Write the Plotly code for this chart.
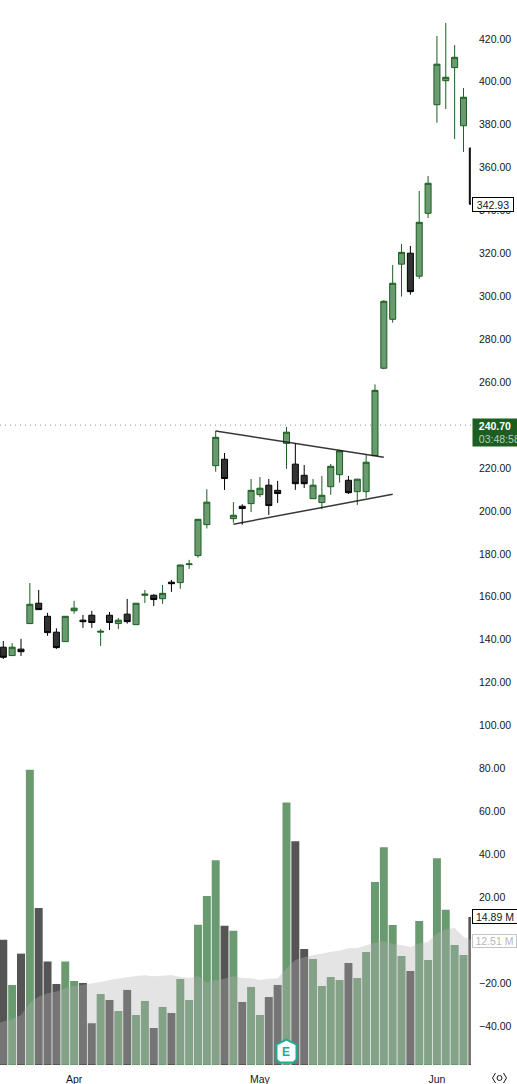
import plotly.graph_objects as go

# --- candles: open, high, low, close, one entry per trading day
opens = [136.5, 132.6, 135.6, 147.5, 157.0, 150.9, 143.5, 139.1, 153.5, 149.1, 151.4, 143.5, 151.4, 147.5, 151.9, 147.0,
         160.7, 160.7, 159.1, 166.8, 166.6, 175.0, 179.2, 193.6, 221.1, 224.1, 196.4, 202.2, 203.4, 207.6, 212.0, 209.6,
         231.5, 221.8, 216.6, 205.7, 203.9, 211.3, 216.9, 214.3, 209.0, 209.0, 225.8, 266.5, 289.3, 315.0, 320.1, 309.4,
         338.7, 389.3, 400.5, 406.6, 379.5, 369.1]
highs = [139.4, 138.4, 140.4, 166.4, 163.2, 152.5, 145.3, 151.0, 158.1, 151.5, 153.4, 145.0, 152.9, 150.1, 159.0, 157.0,
         163.2, 161.2, 165.5, 167.8, 175.0, 177.2, 196.2, 210.1, 237.3, 227.0, 204.1, 203.1, 214.9, 215.8, 214.9, 214.0,
         239.1, 231.5, 221.4, 214.9, 216.3, 221.9, 228.4, 216.3, 214.9, 226.1, 259.0, 298.2, 314.6, 324.4, 323.5, 349.1,
         356.1, 421.3, 427.4, 417.1, 397.1, 369.1]
lows = [131.0, 132.6, 132.4, 147.5, 154.0, 141.8, 135.7, 139.0, 152.1, 145.5, 145.5, 137.1, 144.5, 145.0, 147.5, 147.0,
        157.1, 155.7, 156.7, 162.3, 163.7, 173.0, 178.2, 191.8, 218.3, 209.8, 194.5, 193.6, 199.5, 206.5, 198.1, 203.7,
        219.6, 209.8, 210.7, 205.7, 200.8, 207.5, 213.2, 207.9, 202.8, 206.1, 225.8, 266.0, 287.7, 299.9, 300.8, 308.2,
        336.5, 380.9, 387.3, 373.3, 367.3, 342.93]
closes = [131.8, 136.5, 134.4, 156.5, 154.0, 143.3, 136.3, 150.9, 154.7, 148.4, 148.0, 143.9, 148.0, 149.1, 148.4, 157.0,
          161.2, 158.7, 161.6, 166.1, 174.8, 175.3, 196.1, 204.1, 234.3, 215.1, 198.0, 201.1, 209.6, 210.6, 202.5, 208.1,
          236.7, 212.7, 212.7, 212.0, 207.3, 220.8, 228.0, 208.5, 214.8, 222.7, 256.2, 297.7, 306.1, 320.5, 302.2, 334.5,
          352.7, 408.2, 402.1, 411.4, 392.8, 342.93]

# --- volume, in millions, and its moving average
volumes = [12.6, 8.05, 11.2, 29.7, 15.8, 10.4, 8.15, 10.4, 8.45, 8.25, 4.2, 7.14, 6.54, 5.43, 7.55, 5.03, 6.44, 3.72,
           5.84, 5.23, 8.65, 6.54, 14.1, 17.0, 20.6, 14.0, 13.5, 6.34, 7.85, 5.03, 6.84, 8.05, 26.4, 22.5, 11.67, 10.66,
           7.95, 8.85, 8.55, 10.26, 8.75, 11.37, 18.4, 21.9, 14.08, 10.97, 9.46, 14.49, 10.56, 20.8, 15.6, 12.07, 11.07,
           14.89]
volume_ma = [4.36, 4.63, 5.03, 6.27, 6.87, 7.21, 7.38, 7.71, 7.95, 8.08, 8.15, 8.35, 8.55, 8.72, 8.82, 8.95, 9.02, 8.92,
             8.98, 9.05, 8.85, 8.75, 8.92, 8.32, 8.55, 8.68, 8.95, 8.75, 8.72, 8.55, 8.68, 8.72, 9.73, 10.56, 10.83, 11.07,
             11.2, 11.4, 11.5, 11.74, 11.77, 12.07, 12.3, 12.47, 12.17, 12.07, 11.87, 12.24, 12.37, 13.25, 13.65, 13.78,
             12.9, 12.51]
volume_ma_before = 4.1
volume_floor = 0.1

# --- drawings, in chart values
upper_trend_x = [24, 43]
upper_trend_y = [237.3, 225.0]
lower_trend_x = [26, 44]
lower_trend_y = [193.8, 207.8]

month_labels = ["Apr", "May", "Jun"]
month_index = [8, 29, 49]
last_price = 342.93
prior_close = 240.70
price_line_level = 240.0  # where the dotted line actually sits on the price scale
countdown = "03:48:58"
volume_label = "14.89 M"
volume_ma_label = "12.51 M"
earnings_index = 32
earnings_level = 1.35

GREEN_FILL = "#6a9a70"
GREEN_LINE = "#1b5e20"
DARK_FILL = "#333333"
DARK_LINE = "#000000"
VOL_GREEN = "#6a9a70"
VOL_DARK = "#555555"
FONT = "Liberation Sans"
TEXT_SIZE = 10.5

W, H, ML, MR, MT, MB = 517, 1084, 0, 46, 0, 19
days = list(range(len(opens)))

fig = go.Figure()
fig.add_trace(go.Bar(x=days, y=volumes, yaxis="y2", width=0.9,
                     marker=dict(color=[VOL_GREEN if c >= o else VOL_DARK for o, c in zip(opens, closes)], line_width=0),
                     hoverinfo="skip"))
fig.add_trace(go.Scatter(x=[-1] + days, y=[volume_floor] * (len(days) + 1), yaxis="y2", mode="lines",
                         line=dict(width=0), hoverinfo="skip"))
fig.add_trace(go.Scatter(x=[-1] + days, y=[volume_ma_before] + volume_ma, yaxis="y2", mode="lines",
                         line=dict(width=0, shape="linear"), fill="tonexty", fillcolor="rgba(177,177,177,0.35)",
                         hoverinfo="skip"))
fig.add_trace(go.Candlestick(x=days, open=opens, high=highs, low=lows, close=closes, yaxis="y",
                             increasing=dict(line=dict(color=GREEN_LINE, width=1), fillcolor=GREEN_FILL),
                             decreasing=dict(line=dict(color=DARK_LINE, width=1), fillcolor=DARK_FILL),
                             whiskerwidth=0, hoverinfo="skip"))

fig.update_layout(
    width=W, height=H, margin=dict(l=ML, r=MR, t=MT, b=MB), showlegend=False,
    paper_bgcolor="white", plot_bgcolor="white", boxgap=0.2, boxgroupgap=0.15, boxmode="overlay",
    font=dict(family=FONT, size=TEXT_SIZE, color="#131722"),
    xaxis=dict(range=[-0.373, 52.85], showgrid=False, zeroline=False, rangeslider=dict(visible=False),
               tickmode="array", tickvals=month_index, ticktext=month_labels, ticks="", showline=False,
               ticklabelstandoff=6, tickfont=dict(size=TEXT_SIZE)),
    yaxis=dict(range=[-58.2, 438.1], side="right", showgrid=False, zeroline=False, dtick=20, tick0=0,
               tickformat=".2f", ticks="", ticklabelstandoff=7, showline=False, tickfont=dict(size=TEXT_SIZE)),
    yaxis2=dict(range=[0, 107.1], overlaying="y", side="right", showgrid=False, zeroline=False,
                showticklabels=False, ticks="", showline=False),
)

shapes = [
    dict(type="line", xref="paper", x0=0, x1=1, yref="y", y0=price_line_level, y1=price_line_level, layer="below",
         line=dict(color="#7f9f82", width=1, dash="1px 4px")),
    dict(type="line", xref="x", yref="y", x0=upper_trend_x[0], x1=upper_trend_x[1], y0=upper_trend_y[0], y1=upper_trend_y[1],
         line=dict(color="rgba(20,20,20,0.85)", width=1.5)),
    dict(type="line", xref="x", yref="y", x0=lower_trend_x[0], x1=lower_trend_x[1], y0=lower_trend_y[0], y1=lower_trend_y[1],
         line=dict(color="rgba(20,20,20,0.85)", width=1.5)),
    dict(type="path", xref="x", yref="y2", xsizemode="pixel", ysizemode="pixel", xanchor=earnings_index, yanchor=earnings_level,
         path="M0,12 L10,7 L10,-8 L7,-11 L-7,-11 L-10,-8 L-10,7 Z", fillcolor="white", line=dict(color="#22ab94", width=2)),
    dict(type="path", xref="paper", yref="paper", xsizemode="pixel", ysizemode="pixel", xanchor=499.5 / 471, yanchor=-13 / 1065,
         path="M-4,5 L-7,0 L-4,-5 M4,5 L7,0 L4,-5", line=dict(color="#131722", width=1)),
    dict(type="circle", xref="paper", yref="paper", xsizemode="pixel", ysizemode="pixel", xanchor=499.5 / 471, yanchor=-13 / 1065,
         x0=-2.5, x1=2.5, y0=-2.5, y1=2.5, line=dict(color="#131722", width=1)),
]
fig.update_layout(shapes=shapes)


def label(y, yref, text, bg, border, color, w, h):
    return dict(xref="paper", x=1, xanchor="left", xshift=1, yref=yref, y=y, yanchor="middle", text=text,
                showarrow=False, bgcolor=bg, bordercolor=border, borderwidth=1, borderpad=0, width=w, height=h,
                align="center", font=dict(family=FONT, size=TEXT_SIZE, color=color))


annotations = [
    label(last_price, "y", f"{last_price:.2f}", "white", "#000000", "#131722", 40, 13),
    label(volumes[-1], "y2", volume_label, "white", "#000000", "#131722", 44, 13),
    label(volume_ma[-1], "y2", volume_ma_label, "white", "#c4c4c4", "#b8b8b8", 43, 12),
    dict(xref="paper", x=1, xanchor="left", xshift=1, yref="y", y=price_line_level, yanchor="top", yshift=7,
         text=f"&nbsp;&nbsp;<b>{prior_close:.2f}</b><br>&nbsp;&nbsp;<span style='font-size:10.5px;color:#b9d0bb'>{countdown}</span>",
         showarrow=False, bgcolor=GREEN_LINE, borderpad=0, width=45, height=27, align="left",
         font=dict(family=FONT, size=TEXT_SIZE, color="white")),
    dict(xref="x", yref="y2", x=earnings_index, y=earnings_level, text="<b>E</b>", showarrow=False,
         font=dict(family=FONT, size=12, color="#22ab94")),
]
fig.update_layout(annotations=annotations)

fig.write_html("out.html", config={"displayModeBar": False},
               post_script="document.body.style.margin='0';document.documentElement.style.overflow='hidden';")
